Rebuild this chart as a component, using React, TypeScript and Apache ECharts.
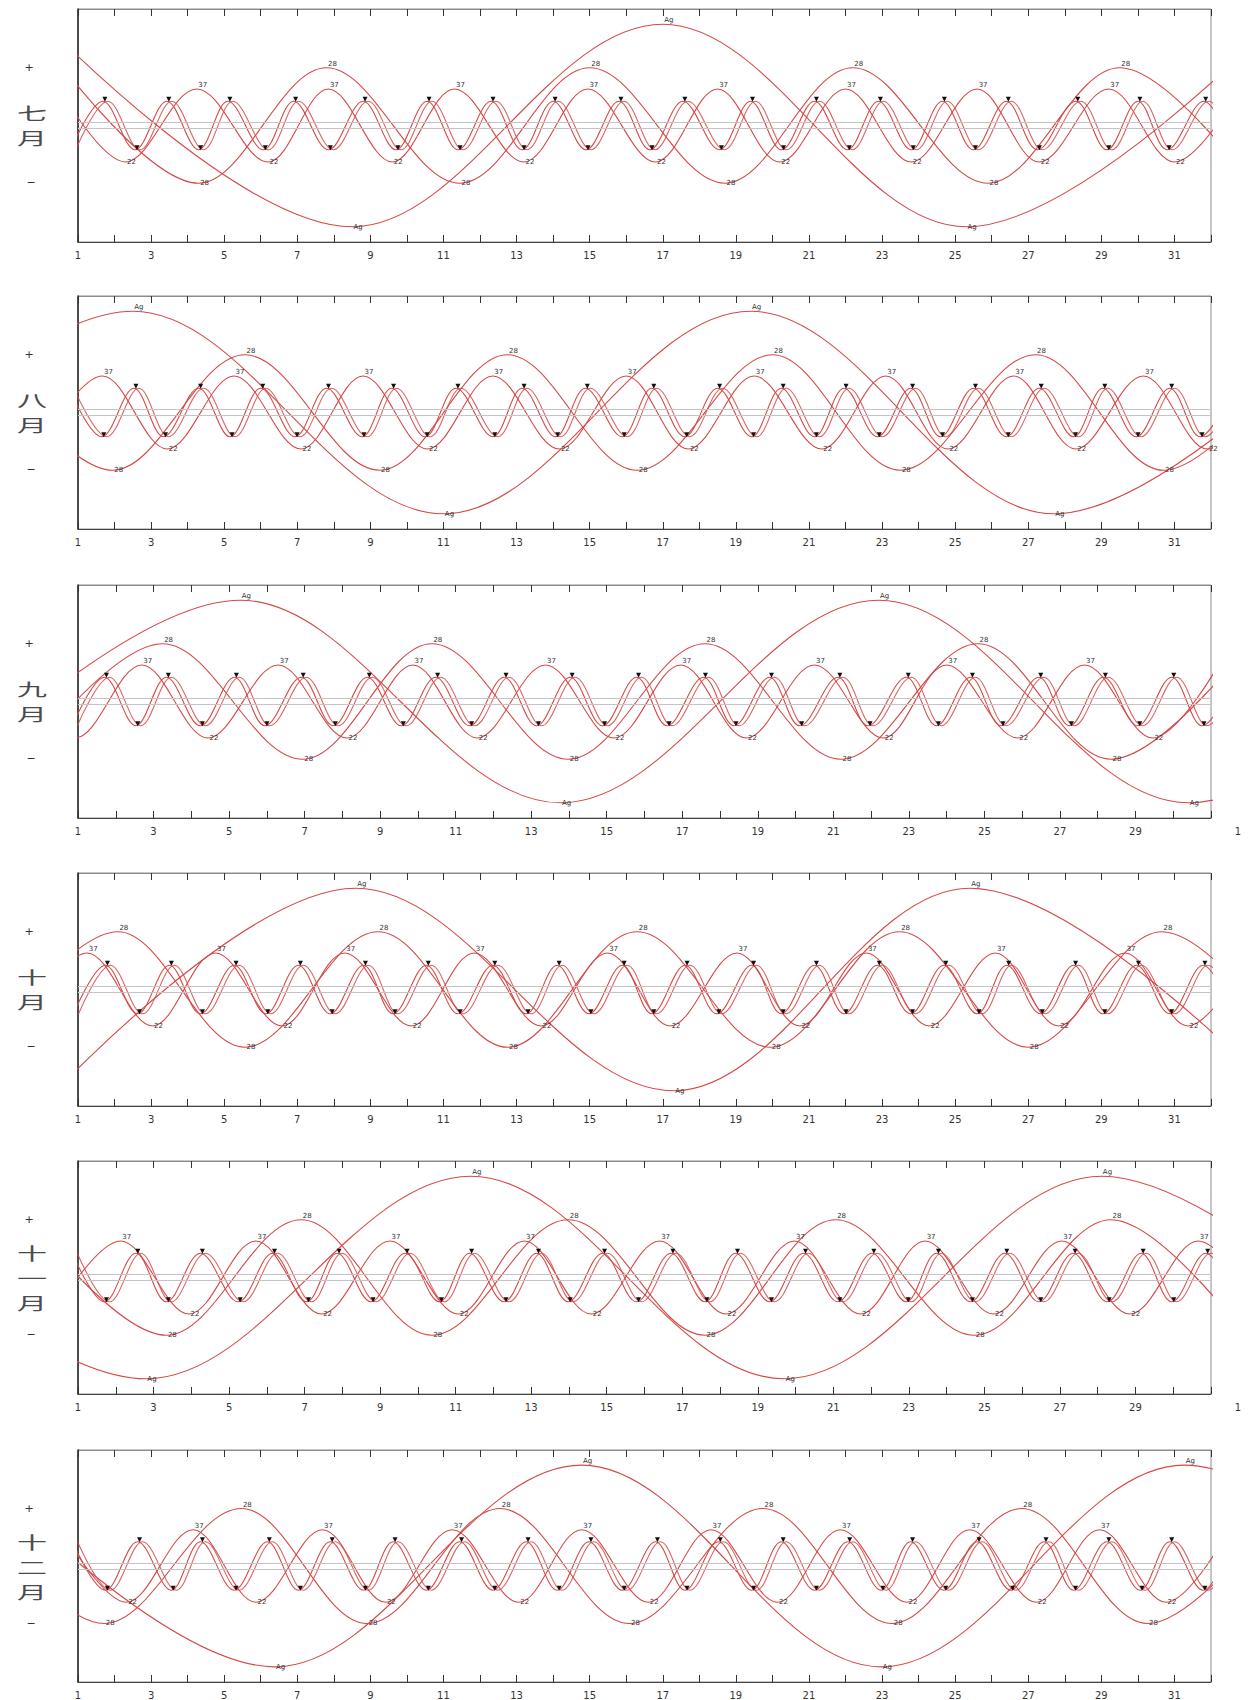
import React, { useEffect, useRef } from 'react';
import * as echarts from 'echarts';

type Pt = [number, number];

// ---- labels / layout data ----
const MONTH_NAMES = ['七月', '八月', '九月', '十月', '十一月', '十二月'];
const MONTH_DAYS = [31, 31, 30, 31, 30, 31];
const TAG_BIG = 'Ag';
const TAG_MED = '28';
const TAG_THIRD_PEAK = '37';
const TAG_THIRD_TROUGH = '22';
const SIDE_TOP = '+';
const SIDE_BOTTOM = '−';

// ---- July ----
const JUL_BIG: Pt[] = [[0.1, 1], [8.5, -1], [17.0, 1], [25.3, -1], [33.7, 1]];
const JUL_MED: Pt[] = [[0.6, 0.57], [4.3, -0.57], [7.8, 0.57], [11.45, -0.57], [15.0, 0.57], [18.7, -0.57], [22.2, 0.57], [25.9, -0.57], [29.5, 0.57], [33.1, -0.57]];
const JUL_THIRD: Pt[] = [[0.5, 0.36], [2.3, -0.36], [4.25, 0.36], [6.2, -0.36], [7.85, 0.36], [9.6, -0.36], [11.3, 0.36], [13.2, -0.36], [14.95, 0.36], [16.8, -0.36], [18.5, 0.36], [20.2, -0.36], [22.0, 0.36], [23.8, -0.36], [25.6, 0.36], [27.3, -0.36], [29.2, 0.36], [31.0, -0.36], [32.8, 0.36]];
const JUL_SMALL: Pt[] = [[0.8, -0.24], [1.68, 0.24], [2.56, -0.24], [3.43, 0.24], [4.3, -0.24], [5.1, 0.24], [6.07, -0.24], [6.9, 0.24], [7.85, -0.24], [8.8, 0.24], [9.7, -0.24], [10.55, 0.24], [11.4, -0.24], [12.3, 0.24], [13.15, -0.24], [14.0, 0.24], [14.9, -0.24], [15.8, 0.24], [16.65, -0.24], [17.55, 0.24], [18.55, -0.24], [19.4, 0.24], [20.25, -0.24], [21.15, 0.24], [22.05, -0.24], [22.9, 0.24], [23.8, -0.24], [24.65, 0.24], [25.5, -0.24], [26.4, 0.24], [27.25, -0.24], [28.3, 0.24], [29.15, -0.24], [30.0, 0.24], [30.8, -0.24], [31.8, 0.24], [32.6, -0.24]];

// ---- August ----
const AUG_BIG: Pt[] = [[-5.85, -1], [2.5, 1], [11.0, -1], [19.4, 1], [27.7, -1], [36.0, 1]];
const AUG_MED: Pt[] = [[-1.6, 0.57], [1.95, -0.57], [5.57, 0.57], [9.25, -0.57], [12.75, 0.57], [16.3, -0.57], [20.0, 0.57], [23.5, -0.57], [27.2, 0.57], [30.7, -0.57], [34.3, 0.57]];
const AUG_THIRD: Pt[] = [[-0.1, -0.36], [1.67, 0.36], [3.44, -0.36], [5.27, 0.36], [7.1, -0.36], [8.8, 0.36], [10.56, -0.36], [12.35, 0.36], [14.17, -0.36], [16.0, 0.36], [17.7, -0.36], [19.5, 0.36], [21.35, -0.36], [23.1, 0.36], [24.8, -0.36], [26.6, 0.36], [28.3, -0.36], [30.15, 0.36], [31.9, -0.36], [33.7, 0.36]];
const AUG_SMALL: Pt[] = [[0.75, 0.24], [1.65, -0.24], [2.53, 0.24], [3.34, -0.24], [4.3, 0.24], [5.16, -0.24], [6.0, 0.24], [6.94, -0.24], [7.8, 0.24], [8.77, -0.24], [9.58, 0.24], [10.5, -0.24], [11.34, 0.24], [12.35, -0.24], [13.15, 0.24], [14.07, -0.24], [14.88, 0.24], [15.89, -0.24], [16.7, 0.24], [17.6, -0.24], [18.5, 0.24], [19.43, -0.24], [20.24, 0.24], [21.15, -0.24], [21.96, 0.24], [22.87, -0.24], [23.78, 0.24], [24.6, -0.24], [25.5, 0.24], [26.4, -0.24], [27.3, 0.24], [28.24, -0.24], [29.04, 0.24], [29.95, -0.24], [30.87, 0.24], [31.7, -0.24], [32.6, 0.24]];

// ---- September ----
const SEP_BIG: Pt[] = [[-3.1, -1], [5.3, 1], [13.78, -1], [22.2, 1], [30.4, -1], [38.8, 1]];
const SEP_MED: Pt[] = [[-0.4, -0.57], [3.24, 0.57], [6.95, -0.57], [10.37, 0.57], [13.98, -0.57], [17.6, 0.57], [21.2, -0.57], [24.83, 0.57], [28.35, -0.57], [32.0, 0.57]];
const SEP_THIRD: Pt[] = [[-0.85, 0.36], [0.92, -0.36], [2.69, 0.36], [4.44, -0.36], [6.3, 0.36], [8.12, -0.36], [9.87, 0.36], [11.57, -0.36], [13.38, 0.36], [15.19, -0.36], [16.96, 0.36], [18.7, -0.36], [20.5, 0.36], [22.32, -0.36], [24.0, 0.36], [25.88, -0.36], [27.65, 0.36], [29.46, -0.36], [31.2, 0.36]];
const SEP_SMALL: Pt[] = [[0.85, -0.24], [1.7, 0.24], [2.53, -0.24], [3.34, 0.24], [4.24, -0.24], [5.14, 0.24], [5.95, -0.24], [6.91, 0.24], [7.76, -0.24], [8.66, 0.24], [9.56, -0.24], [10.47, 0.24], [11.37, -0.24], [12.28, 0.24], [13.14, -0.24], [14.03, 0.24], [14.89, -0.24], [15.79, 0.24], [16.6, -0.24], [17.56, 0.24], [18.37, -0.24], [19.31, 0.24], [20.11, -0.24], [21.12, 0.24], [21.92, -0.24], [22.93, 0.24], [23.73, -0.24], [24.63, 0.24], [25.44, -0.24], [26.44, 0.24], [27.25, -0.24], [28.15, 0.24], [29.06, -0.24], [29.96, 0.24], [30.76, -0.24], [31.65, 0.24]];

// ---- October ----
const OCT_BIG: Pt[] = [[0.4, -1], [8.6, 1], [17.3, -1], [25.4, 1], [33.7, -1]];
const OCT_MED: Pt[] = [[-1.5, -0.57], [2.09, 0.57], [5.57, -0.57], [9.21, 0.57], [12.75, -0.57], [16.3, 0.57], [19.94, -0.57], [23.48, 0.57], [27.0, -0.57], [30.66, 0.57], [34.2, -0.57]];
const OCT_THIRD: Pt[] = [[-0.5, -0.36], [1.25, 0.36], [3.04, -0.36], [4.76, 0.36], [6.58, -0.36], [8.3, 0.36], [10.12, -0.36], [11.84, 0.36], [13.67, -0.36], [15.49, 0.36], [17.2, -0.36], [19.03, 0.36], [20.75, -0.36], [22.57, 0.36], [24.29, -0.36], [26.1, 0.36], [27.83, -0.36], [29.65, 0.36], [31.37, -0.36], [33.1, 0.36]];
const OCT_SMALL: Pt[] = [[0.88, -0.24], [1.75, 0.24], [2.63, -0.24], [3.5, 0.24], [4.35, -0.24], [5.27, 0.24], [6.14, -0.24], [7.03, 0.24], [7.9, -0.24], [8.81, 0.24], [9.62, -0.24], [10.53, 0.24], [11.4, -0.24], [12.35, 0.24], [13.26, -0.24], [14.11, 0.24], [14.98, -0.24], [15.89, 0.24], [16.7, -0.24], [17.61, 0.24], [18.48, -0.24], [19.43, 0.24], [20.24, -0.24], [21.15, 0.24], [21.96, -0.24], [22.87, 0.24], [23.78, -0.24], [24.69, 0.24], [25.6, -0.24], [26.41, 0.24], [27.33, -0.24], [28.24, 0.24], [29.04, -0.24], [29.96, 0.24], [30.87, -0.24], [31.78, 0.24], [32.6, -0.24]];

// ---- November ----
const NOV_BIG: Pt[] = [[-5.6, 1], [2.8, -1], [11.4, 1], [19.7, -1], [28.1, 1], [36.5, -1]];
const NOV_MED: Pt[] = [[-0.3, 0.57], [3.34, -0.57], [6.91, 0.57], [10.37, -0.57], [13.98, 0.57], [17.6, -0.57], [21.06, 0.57], [24.73, -0.57], [28.35, 0.57], [31.9, -0.57]];
const NOV_THIRD: Pt[] = [[0.35, -0.36], [2.13, 0.36], [3.94, -0.36], [5.71, 0.36], [7.45, -0.36], [9.26, 0.36], [11.07, -0.36], [12.82, 0.36], [14.59, -0.36], [16.4, 0.36], [18.16, -0.36], [19.97, 0.36], [21.72, -0.36], [23.43, 0.36], [25.24, -0.36], [27.05, 0.36], [28.85, -0.36], [30.66, 0.36], [32.4, -0.36]];
const NOV_SMALL: Pt[] = [[0.85, 0.24], [1.7, -0.24], [2.53, 0.24], [3.34, -0.24], [4.24, 0.24], [5.24, -0.24], [6.15, 0.24], [7.05, -0.24], [7.86, 0.24], [8.76, -0.24], [9.66, 0.24], [10.57, -0.24], [11.37, 0.24], [12.28, -0.24], [13.14, 0.24], [13.98, -0.24], [14.89, 0.24], [15.79, -0.24], [16.7, 0.24], [17.6, -0.24], [18.41, 0.24], [19.31, -0.24], [20.21, 0.24], [21.12, -0.24], [22.02, 0.24], [22.93, -0.24], [23.73, 0.24], [24.63, -0.24], [25.54, 0.24], [26.44, -0.24], [27.35, 0.24], [28.25, -0.24], [29.15, 0.24], [29.96, -0.24], [30.86, 0.24], [31.7, -0.24]];

// ---- December ----
const DEC_BIG: Pt[] = [[-1.9, 1], [6.38, -1], [14.78, 1], [22.98, -1], [31.27, 1], [39.5, -1]];
const DEC_MED: Pt[] = [[-1.9, 0.57], [1.72, -0.57], [5.47, 0.57], [8.91, -0.57], [12.55, 0.57], [16.09, -0.57], [19.74, 0.57], [23.28, -0.57], [26.82, 0.57], [30.26, -0.57], [33.9, 0.57]];
const DEC_THIRD: Pt[] = [[0.55, 0.36], [2.33, -0.36], [4.15, 0.36], [5.87, -0.36], [7.69, 0.36], [9.41, -0.36], [11.24, 0.36], [13.06, -0.36], [14.78, 0.36], [16.6, -0.36], [18.32, 0.36], [20.14, -0.36], [21.86, 0.36], [23.68, -0.36], [25.4, 0.36], [27.22, -0.36], [28.95, 0.36], [30.77, -0.36], [32.5, 0.36]];
const DEC_SMALL: Pt[] = [[0.85, 0.24], [1.75, -0.24], [2.63, 0.24], [3.55, -0.24], [4.35, 0.24], [5.27, -0.24], [6.18, 0.24], [7.03, -0.24], [7.9, 0.24], [8.81, -0.24], [9.62, 0.24], [10.53, -0.24], [11.44, 0.24], [12.35, -0.24], [13.26, 0.24], [14.11, -0.24], [14.98, 0.24], [15.89, -0.24], [16.8, 0.24], [17.61, -0.24], [18.52, 0.24], [19.43, -0.24], [20.24, 0.24], [21.15, -0.24], [22.06, 0.24], [22.97, -0.24], [23.78, 0.24], [24.69, -0.24], [25.6, 0.24], [26.52, -0.24], [27.43, 0.24], [28.24, -0.24], [29.15, 0.24], [30.06, -0.24], [30.87, 0.24], [31.78, -0.24], [32.6, 0.24]];

const BIG_CURVES = [JUL_BIG, AUG_BIG, SEP_BIG, OCT_BIG, NOV_BIG, DEC_BIG];
const MED_CURVES = [JUL_MED, AUG_MED, SEP_MED, OCT_MED, NOV_MED, DEC_MED];
const THIRD_CURVES = [JUL_THIRD, AUG_THIRD, SEP_THIRD, OCT_THIRD, NOV_THIRD, DEC_THIRD];
const SMALL_CURVES = [JUL_SMALL, AUG_SMALL, SEP_SMALL, OCT_SMALL, NOV_SMALL, DEC_SMALL];
const CENTER_BAND = [0.03, -0.03];

// ---- layout (positions / styles) ----
const PANEL_TOPS = [9, 296, 585, 873, 1161, 1450];
const PANEL_H = 233;
const PLOT_LEFT = 78;
const PLOT_W = 1133;
const RED = '#d64848';

function labeledData(pts: Pt[], peakTag: string, troughTag: string) {
  return pts.map(([d, v]) => ({
    value: [d, v],
    label: {
      show: true,
      formatter: v > 0 ? peakTag : troughTag,
      position: v > 0 ? 'top' : 'bottom',
      distance: v > 0 ? 0 : -4,
      offset: [6, 0],
    },
  }));
}

export default function App() {
  const ref = useRef<HTMLDivElement>(null);
  useEffect(() => {
    if (!ref.current) return;
    const chart = echarts.init(ref.current, null, { renderer: 'svg' });
    const grids: any[] = [];
    const xAxes: any[] = [];
    const yAxes: any[] = [];
    const series: any[] = [];
    const graphics: any[] = [];
    const labelStyle = { fontSize: 7, color: '#333', fontFamily: 'DejaVu Sans' };

    MONTH_NAMES.forEach((name, i) => {
      const top = PANEL_TOPS[i];
      const days = MONTH_DAYS[i];
      const xMax = days + 1;
      grids.push({ left: PLOT_LEFT, width: PLOT_W, top, height: PANEL_H, show: true, borderColor: '#8c8c8c', borderWidth: 1, backgroundColor: '#fff' });
      xAxes.push({
        gridIndex: i, type: 'value', min: 1, max: xMax, interval: 1, position: 'bottom',
        axisLine: { show: true, onZero: false, lineStyle: { color: '#444', width: 1 } },
        axisTick: { show: true, inside: true, length: 7, lineStyle: { color: '#333', width: 1 } },
        splitLine: { show: false },
        axisLabel: {
          show: true, margin: 8, fontSize: 10, color: '#333', fontFamily: 'DejaVu Sans',
          showMinLabel: true, showMaxLabel: true,
          formatter: (v: number) => {
            if (days === 30 && v === xMax) return '{n|1}';
            return v % 2 === 1 && v <= days ? String(v) : '';
          },
          rich: { n: { fontSize: 10, color: '#333', fontFamily: 'DejaVu Sans', padding: [0, 0, 0, 54] } },
        },
      });
      xAxes.push({
        gridIndex: i, type: 'value', min: 1, max: xMax, interval: 1, position: 'top',
        axisLine: { show: true, onZero: false, lineStyle: { color: '#8c8c8c', width: 1 } },
        axisTick: { show: true, inside: true, length: 7, lineStyle: { color: '#333', width: 1 } },
        axisLabel: { show: false }, splitLine: { show: false },
      });
      yAxes.push({
        gridIndex: i, type: 'value', min: -1.15, max: 1.15,
        axisLine: { show: true, onZero: false, lineStyle: { color: '#222', width: 1.5 } },
        axisTick: { show: false }, axisLabel: { show: false }, splitLine: { show: false },
      });

      const base = {
        type: 'line', xAxisIndex: 2 * i, yAxisIndex: i, smooth: 0.36, clip: true, silent: true,
        lineStyle: { color: RED, width: 1.1 },
        emphasis: { disabled: true },
      };
      const hidden = { symbol: 'circle', symbolSize: 1, showSymbol: true, itemStyle: { color: 'rgba(0,0,0,0)' }, label: { ...labelStyle } };

      series.push({
        ...base, ...hidden,
        data: labeledData(BIG_CURVES[i], TAG_BIG, TAG_BIG),
        markLine: {
          silent: true, symbol: ['none', 'none'], label: { show: false },
          lineStyle: { color: '#c4c4c4', width: 1, type: 'solid' },
          data: CENTER_BAND.map((y) => ({ yAxis: y })),
        },
      });
      series.push({ ...base, ...hidden, data: labeledData(MED_CURVES[i], TAG_MED, TAG_MED) });
      series.push({ ...base, ...hidden, data: labeledData(THIRD_CURVES[i], TAG_THIRD_PEAK, TAG_THIRD_TROUGH) });
      series.push({
        ...base,
        lineStyle: { color: RED, width: 1.1, shadowColor: 'rgba(214,72,72,0.85)', shadowBlur: 0, shadowOffsetX: 5, shadowOffsetY: 0 },
        symbol: 'triangle', symbolRotate: 180, symbolSize: 5, symbolOffset: [2, -2], showSymbol: true,
        itemStyle: { color: '#111' },
        data: SMALL_CURVES[i],
      });

      // side texts
      const cy = top + PANEL_H / 2;
      graphics.push({ type: 'text', x: 29, y: cy - 58, style: { text: SIDE_TOP, fontSize: 11, fill: '#333', align: 'center', verticalAlign: 'middle', fontFamily: 'DejaVu Sans' } });
      graphics.push({ type: 'text', x: 31, y: cy + 57, style: { text: SIDE_BOTTOM, fontSize: 11, fill: '#333', align: 'center', verticalAlign: 'middle', fontFamily: 'DejaVu Sans' } });
      const chars = name.split('');
      chars.forEach((ch, j) => {
        graphics.push({
          type: 'text', x: 32, y: cy + (j - (chars.length - 1) / 2) * 25,
          scaleY: 0.55,
          style: { text: ch, fontSize: 30, fill: '#4a4a4a', align: 'center', verticalAlign: 'middle', fontFamily: 'Noto Sans CJK SC' },
        });
      });
    });

    chart.setOption({
      animation: false,
      backgroundColor: '#fff',
      grid: grids,
      xAxis: xAxes,
      yAxis: yAxes,
      series,
      graphic: graphics,
    });
    return () => chart.dispose();
  }, []);
  return <div ref={ref} style={{ position: 'absolute', left: 0, top: 0, width: 1258, height: 1700, background: '#fff' }} />;
}
